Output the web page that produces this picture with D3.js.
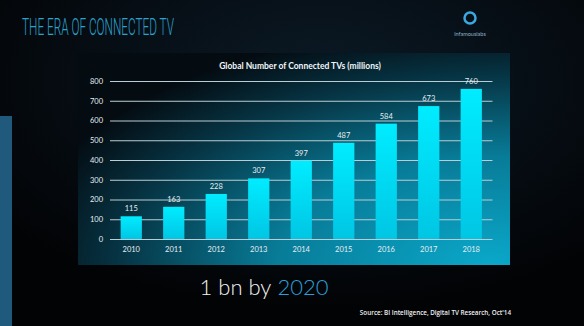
<!DOCTYPE html>
<meta charset="utf-8">
<style>
  body { margin: 0; background: #000; }
  svg { display: block; }
</style>
<body>
<script src="https://d3js.org/d3.v7.min.js"></script>
<script>
const years = ["2010", "2011", "2012", "2013", "2014", "2015", "2016", "2017", "2018"];
const tvs = [115, 163, 228, 307, 397, 487, 584, 673, 760];
const yTicks = [0, 100, 200, 300, 400, 500, 600, 700, 800];

const W = 584, H = 326;
const svg = d3.select("body").append("svg").attr("width", W).attr("height", H);
const defs = svg.append("defs");

// page background
const bg = defs.append("radialGradient").attr("id", "bg")
  .attr("cx", "55%").attr("cy", "25%").attr("r", "70%");
bg.append("stop").attr("offset", "0%").attr("stop-color", "#0b1a26");
bg.append("stop").attr("offset", "100%").attr("stop-color", "#020305");
svg.append("rect").attr("width", W).attr("height", H).attr("fill", "url(#bg)");

// left strip
svg.append("rect").attr("x", 0).attr("y", 116).attr("width", 12).attr("height", H - 116)
  .attr("fill", "#1f5a7c");

// panel
const pg = defs.append("radialGradient").attr("id", "panel")
  .attr("cx", "100%").attr("cy", "100%").attr("r", "115%").attr("fx", "95%").attr("fy", "100%");
pg.append("stop").attr("offset", "0%").attr("stop-color", "#0aa8ca");
pg.append("stop").attr("offset", "45%").attr("stop-color", "#087b97");
pg.append("stop").attr("offset", "80%").attr("stop-color", "#06303f");
pg.append("stop").attr("offset", "100%").attr("stop-color", "#040c12");
svg.append("rect").attr("x", 78).attr("y", 53).attr("width", 432).attr("height", 212)
  .attr("fill", "url(#panel)");

// title
svg.append("text").attr("x", 22).attr("y", 35)
  .attr("font-family", "Roboto, sans-serif")
  .attr("font-weight", 300).attr("font-size", 23)
  .attr("textLength", 152).attr("lengthAdjust", "spacingAndGlyphs")
  .attr("fill", "#2aa3cf").text("THE ERA OF CONNECTED TV");

// logo
svg.append("circle").attr("cx", 470).attr("cy", 18).attr("r", 5.5)
  .attr("fill", "none").attr("stroke", "#3aa9e0").attr("stroke-width", 2.5);
svg.append("text").attr("x", 470).attr("y", 36).attr("text-anchor", "middle")
  .attr("font-family", "Lato, sans-serif").attr("font-size", 5.5).attr("fill", "#8fb3c8")
  .text("infamouslabs");

// chart
const x = d3.scaleBand().domain(years).range([110, 492.5]).paddingInner(0.5).paddingOuter(0.25);
const y = d3.scaleLinear().domain([0, 800]).range([239, 81]);

svg.append("text").attr("x", 300).attr("y", 69).attr("text-anchor", "middle")
  .attr("font-family", "Lato, sans-serif").attr("font-weight", "bold").attr("font-size", 8.5)
  .attr("fill", "#f2f6f8").text("Global Number of Connected TVs (millions)");

const yAxis = svg.append("g").attr("transform", "translate(110,0)")
  .call(d3.axisLeft(y).tickValues(yTicks).tickSize(-382.5).tickPadding(7));
yAxis.select(".domain").remove();
yAxis.selectAll("line").attr("stroke", "#b9cdd4").attr("stroke-width", 1);
yAxis.selectAll("text").attr("fill", "#e6eef2").attr("font-size", 7.5)
  .attr("font-family", "Lato, sans-serif");

const bar = defs.append("linearGradient").attr("id", "bar").attr("x1", 0).attr("y1", 0).attr("x2", 0).attr("y2", 1);
bar.append("stop").attr("offset", "0%").attr("stop-color", "#00ecff");
bar.append("stop").attr("offset", "100%").attr("stop-color", "#00c6e4");

svg.append("g").selectAll("rect").data(tvs).join("rect")
  .attr("x", (d, i) => x(years[i])).attr("width", x.bandwidth())
  .attr("y", d => y(d)).attr("height", d => y(0) - y(d))
  .attr("fill", "url(#bar)");

svg.append("g").selectAll("text").data(tvs).join("text")
  .attr("x", (d, i) => x(years[i]) + x.bandwidth() / 2).attr("y", d => y(d) - 5)
  .attr("text-anchor", "middle").attr("font-family", "Lato, sans-serif").attr("font-size", 7.5)
  .attr("fill", "#e8eef0").text(d => d);

const xAxis = svg.append("g").attr("transform", `translate(0,${y(0)})`)
  .call(d3.axisBottom(x).tickSize(0).tickPadding(8));
xAxis.select(".domain").remove();
xAxis.selectAll("text").attr("fill", "#e6eef2").attr("font-size", 7.5)
  .attr("font-family", "Lato, sans-serif");

// tagline: two separate texts, laid out side by side
const tagFont = { family: "Lato, sans-serif", weight: 300, size: 22 };
const t1 = svg.append("text").attr("y", 295)
  .attr("font-family", tagFont.family).attr("font-weight", tagFont.weight).attr("font-size", tagFont.size)
  .attr("fill", "#f4f4f4").attr("xml:space", "preserve").text("1 bn by");
const t2 = svg.append("text").attr("y", 295)
  .attr("font-family", tagFont.family).attr("font-weight", tagFont.weight).attr("font-size", tagFont.size)
  .attr("fill", "#2b9fd6").text("2020");
const w1 = t1.node().getComputedTextLength(), w2 = t2.node().getComputedTextLength();
const gap = 6, x0 = 264 - (w1 + gap + w2) / 2;
t1.attr("x", x0);
t2.attr("x", x0 + w1 + gap);

svg.append("text").attr("x", 511).attr("y", 315).attr("text-anchor", "end")
  .attr("font-family", "'Open Sans', sans-serif").attr("font-weight", 600).attr("font-size", 6.3)
  .attr("fill", "#f0f0f0").text("Source: BI Intelligence, Digital TV Research, Oct'14");
</script>
</body>
